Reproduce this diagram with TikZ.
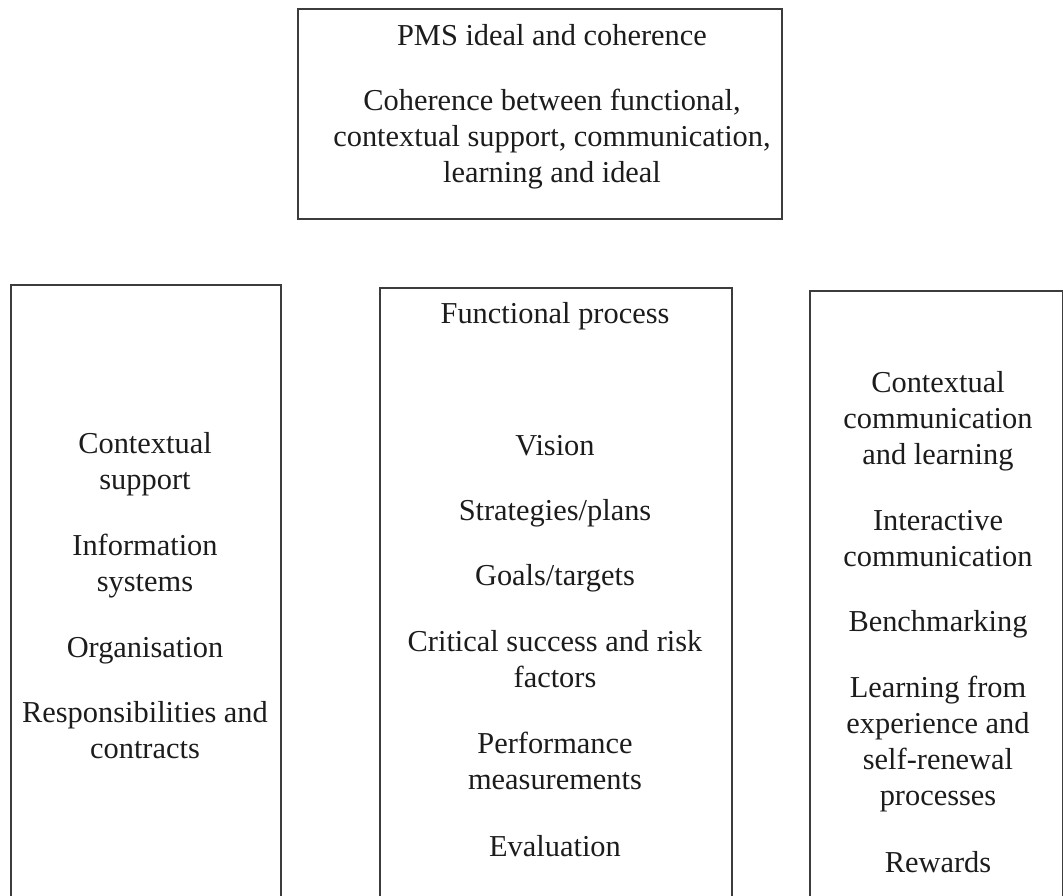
\documentclass[tikz,border=0pt]{standalone}
\usepackage{fontspec}
\setmainfont{Liberation Serif}
\definecolor{boxgray}{HTML}{3C3C3C}
\definecolor{inkblack}{HTML}{1C1C1C}
\begin{document}
\begin{tikzpicture}[x=0.5bp,y=-0.5bp,
  panel/.style={draw=boxgray, line width=1.2bp, inner sep=0pt, anchor=north west},
  % each item is placed at the baseline of its last line
  item/.style={align=center, inner sep=0pt, anchor=base, text=inkblack,
    font=\fontsize{15.2bp}{18bp}\selectfont}]
\useasboundingbox (0,0) rectangle (1063,896);
\clip (0,0) rectangle (1063,896);

% frames
\node[panel, minimum width=242bp, minimum height=105bp] (ideal) at (297,8) {};
\node[panel, minimum width=135bp, minimum height=308bp] (support) at (10,284) {};
\node[panel, minimum width=176bp, minimum height=307bp] (functional) at (379,287) {};
\node[panel, minimum width=126.5bp, minimum height=305bp] (communication) at (809,290) {};

% PMS ideal and coherence
\node[item] (t1) at (552,45) {PMS ideal and coherence};
\node[item] (t2) at (552,182) {Coherence between functional,\\contextual support, communication,\\learning and ideal};

% contextual support
\node[item] (s1) at (145,489) {Contextual\\support};
\node[item] (s2) at (145,591) {Information\\systems};
\node[item] (s3) at (145,657) {Organisation};
\node[item] (s4) at (145,758) {Responsibilities and\\contracts};

% functional process
\node[item] (f0) at (555,323) {Functional process};
\node[item] (f1) at (555,455) {Vision};
\node[item] (f2) at (555,520) {Strategies/plans};
\node[item] (f3) at (555,585) {Goals/targets};
\node[item] (f4) at (555,687) {Critical success and risk\\factors};
\node[item] (f5) at (555,789) {Performance\\measurements};
\node[item] (f6) at (555,856) {Evaluation};

% contextual communication and learning
\node[item] (c1) at (938,464) {Contextual\\communication\\and learning};
\node[item] (c2) at (938,566) {Interactive\\communication};
\node[item] (c3) at (938,631) {Benchmarking};
\node[item] (c4) at (938,805) {Learning from\\experience and\\self-renewal\\processes};
\node[item] (c5) at (938,872) {Rewards};
\end{tikzpicture}
\end{document}
